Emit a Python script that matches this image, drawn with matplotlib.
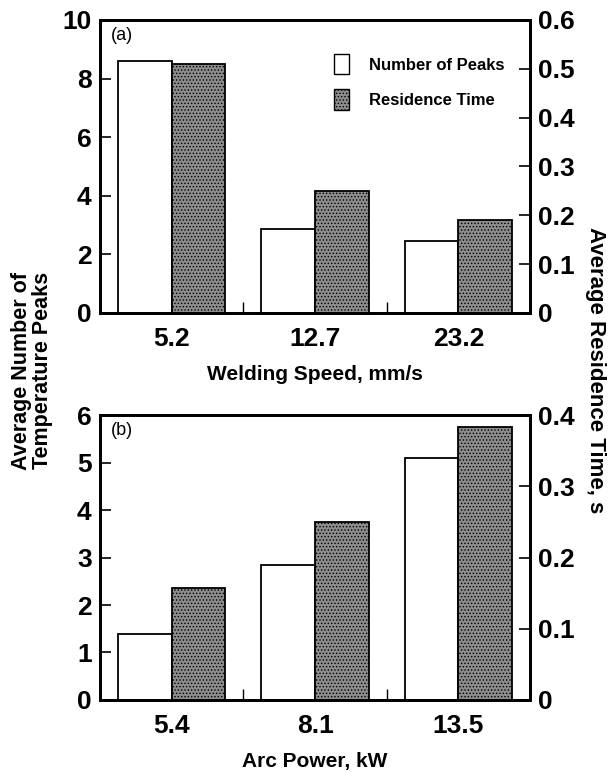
import numpy as np
import matplotlib
matplotlib.use("Agg")
import matplotlib.pyplot as plt
from matplotlib.patches import Patch

plt.rcParams['font.family'] = ['Liberation Sans Narrow', 'Liberation Sans', 'DejaVu Sans']
plt.rcParams['hatch.linewidth'] = 0.6

# data
speed_labels = ["5.2", "12.7", "23.2"]
speed_peaks = [8.6, 2.85, 2.45]
speed_time = [0.51, 0.25, 0.19]

power_labels = ["5.4", "8.1", "13.5"]
power_peaks = [1.4, 2.85, 5.1]
power_time = [0.157, 0.25, 0.383]

DARK = '#8c8c8c'
W = 0.375


def panel(ax, labels, peaks, times, ymax, yticks, tmax, tticks, xlabel, tag):
    x = np.arange(len(labels))
    ax.bar(x - W / 2, peaks, W, facecolor='white', edgecolor='black', linewidth=1.3)
    ax.set_xlim(-0.5, len(labels) - 0.5)
    ax.set_ylim(0, ymax)
    ax.set_yticks(yticks)
    ax.set_yticklabels([str(t) for t in yticks], fontsize=19, fontweight='bold')
    ax.set_xticks(x)
    ax.set_xticklabels(labels, fontsize=19, fontweight='bold')
    ax.set_xticks(x[:-1] + 0.5, minor=True)
    ax.tick_params(axis='x', which='major', length=0, pad=10)
    ax.tick_params(axis='x', which='minor', direction='in', length=8, width=1)
    ax.tick_params(axis='y', direction='in', length=8, width=1.2, pad=6)
    ax.set_xlabel(xlabel, fontsize=15, fontweight='bold', labelpad=10)
    ax.text(0.025, 0.975, tag, transform=ax.transAxes, fontsize=13, va='top')

    ax2 = ax.twinx()
    ax2.bar(x + W / 2, times, W, facecolor=DARK, edgecolor='black', linewidth=1.3,
            hatch='.....')
    ax2.set_ylim(0, tmax)
    ax2.set_yticks(tticks)
    ax2.set_yticklabels(['0' if t == 0 else f'{t:.1f}' for t in tticks],
                        fontsize=19, fontweight='bold')
    ax2.tick_params(axis='y', direction='in', length=8, width=1.2, pad=6)
    for a in (ax, ax2):
        for s in a.spines.values():
            s.set_linewidth(2)
    return ax, ax2


fig = plt.figure(figsize=(6.11, 7.72), dpi=100)
ax_a = fig.add_axes([0.1637, 0.5946, 0.7038, 0.3795])
ax_b = fig.add_axes([0.1637, 0.0933, 0.7038, 0.369])

panel(ax_a, speed_labels, speed_peaks, speed_time, 10, [0, 2, 4, 6, 8, 10],
      0.6, [0, 0.1, 0.2, 0.3, 0.4, 0.5, 0.6], "Welding Speed, mm/s", "(a)")
panel(ax_b, power_labels, power_peaks, power_time, 6, [0, 1, 2, 3, 4, 5, 6],
      0.4, [0, 0.1, 0.2, 0.3, 0.4], "Arc Power, kW", "(b)")

handles = [Patch(facecolor='white', edgecolor='black', linewidth=1),
           Patch(facecolor=DARK, edgecolor='black', linewidth=1, hatch='.....')]
ax_a.legend(handles, ["Number of Peaks", "Residence Time"], loc='upper right',
            bbox_to_anchor=(0.975, 0.935), frameon=False, handlelength=0.9,
            handleheight=1.5, handletextpad=1.2, labelspacing=0.9,
            prop={'size': 12, 'weight': 'bold'})

fig.text(0.052, 0.52, "Average Number of\nTemperature Peaks", rotation=90,
         ha='center', va='center', fontsize=15.5, fontweight='bold', linespacing=1.0)
fig.text(0.974, 0.52, "Average Residence Time, s", rotation=-90,
         ha='center', va='center', fontsize=16, fontweight='bold')

fig.savefig("out.png", dpi=100)
